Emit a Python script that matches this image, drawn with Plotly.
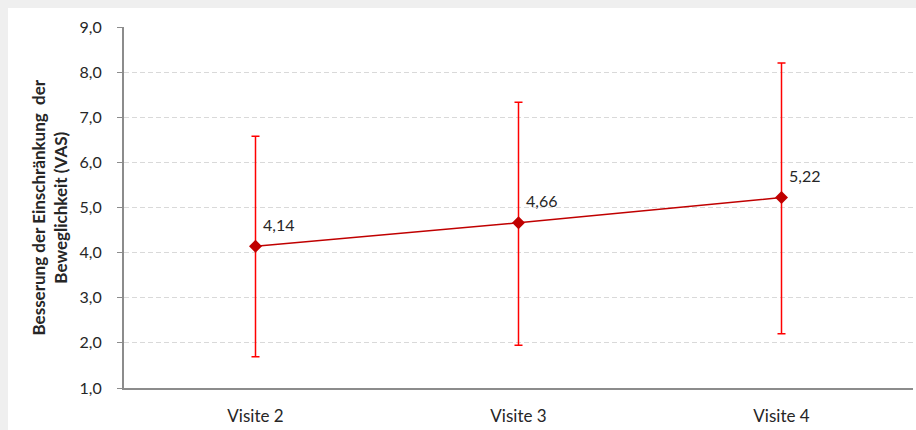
import plotly.graph_objects as go

categories = ["Visite 2", "Visite 3", "Visite 4"]
means = [4.14, 4.66, 5.22]
err_plus = [2.44, 2.67, 2.98]
err_minus = [2.45, 2.71, 3.02]
labels = ["4,14", "4,66", "5,22"]
y_ticks = [1, 2, 3, 4, 5, 6, 7, 8, 9]
y_ticktext = ["1,0", "2,0", "3,0", "4,0", "5,0", "6,0", "7,0", "8,0", "9,0"]
y_title = "Besserung der Einschränkung \u00a0der<br>Beweglichkeit (VAS)"

FONT = "Lato"
TXT = "#262626"

fig = go.Figure()
fig.add_trace(go.Scatter(
    x=categories, y=means,
    mode="lines+markers",
    line=dict(color="#c00000", width=1.5),
    marker=dict(symbol="diamond", size=10, color="#c00000"),
    error_y=dict(type="data", symmetric=False, array=err_plus, arrayminus=err_minus,
                 color="#ff0000", thickness=1.5, width=4),
    cliponaxis=False,
    showlegend=False,
))

for c, v, t in zip(categories, means, labels):
    fig.add_annotation(x=c, y=v, text=t, showarrow=False,
                       xanchor="left", yanchor="middle", xshift=5, yshift=22,
                       font=dict(family=FONT, size=16, color=TXT))

W, H = 916, 430
L, R, T, B = 124, 3, 27, 42
pw = W - L - R
ph = H - T - B

# gray frame bands (top and left)
fig.add_shape(type="rect", xref="paper", yref="paper",
              x0=-L / pw, x1=(W - L) / pw, y0=1 + (T - 8) / ph, y1=1 + T / ph,
              fillcolor="#efefef", line=dict(width=0), layer="below")
fig.add_shape(type="rect", xref="paper", yref="paper",
              x0=-L / pw, x1=-(L - 8) / pw, y0=-B / ph, y1=1 + T / ph,
              fillcolor="#efefef", line=dict(width=0), layer="below")

fig.add_annotation(text=y_title, xref="paper", yref="paper",
                   x=-(L - 49) / pw, y=0.5, xanchor="center", yanchor="middle",
                   textangle=-90, showarrow=False,
                   font=dict(family=FONT, size=17, color=TXT, weight="bold"))

fig.update_layout(
    width=W, height=H,
    margin=dict(l=L, r=R, t=T, b=B),
    paper_bgcolor="white", plot_bgcolor="white",
    font=dict(family=FONT, size=16, color=TXT),
    xaxis=dict(range=[-0.5, 2.5], showline=True, linecolor="#8c8c8c", linewidth=2,
               showgrid=False, ticks="", ticklabelstandoff=12,
               tickfont=dict(family=FONT, size=17, color=TXT), fixedrange=True),
    yaxis=dict(range=[1, 9], tickvals=y_ticks, ticktext=y_ticktext,
               showline=True, linecolor="#8c8c8c", linewidth=2,
               ticks="outside", ticklen=5, tickcolor="#8c8c8c", tickwidth=1,
               showgrid=True, gridcolor="#d9d9d9", griddash="5px,3px", gridwidth=1,
               zeroline=False, ticklabelstandoff=12,
               tickfont=dict(family=FONT, size=16, color=TXT), fixedrange=True),
)

fig.write_html("out.html")
